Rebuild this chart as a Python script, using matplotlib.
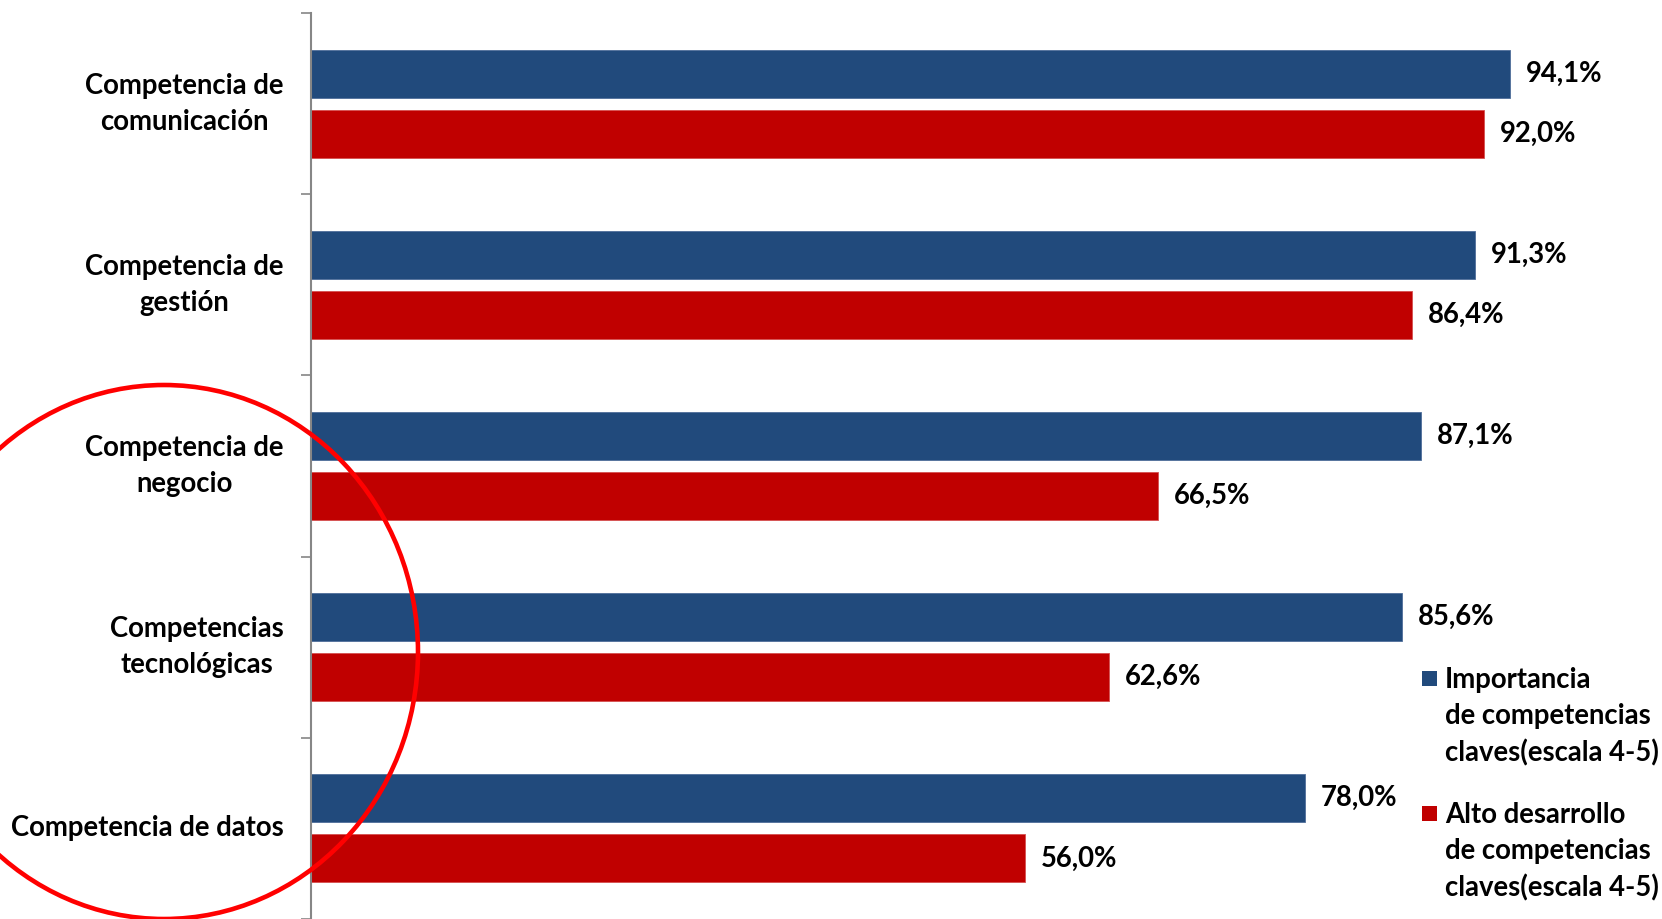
import matplotlib
matplotlib.use("Agg")
import matplotlib.pyplot as plt
from matplotlib.patches import Ellipse, Rectangle
import numpy as np

plt.rcParams['font.family'] = ['Lato', 'DejaVu Sans']

categories = ["Competencia de\ncomunicación", "Competencia de\ngestión",
              "Competencia de\nnegocio", "Competencias\ntecnológicas",
              "Competencia de datos"]
importancia = [94.1, 91.3, 87.1, 85.6, 78.0]
desarrollo = [92.0, 86.4, 66.5, 62.6, 56.0]
series_names = ["Importancia\nde competencias\nclaves(escala 4-5)",
                "Alto desarrollo\nde competencias\nclaves(escala 4-5)"]
colors = ["#214A7C", "#C00000"]

W, H = 1662, 919
fig = plt.figure(figsize=(W / 100, H / 100), dpi=100)
ax = fig.add_axes([310.6 / W, 0.0, 1 - 310.6 / W, 1 - 13 / H])

y = np.arange(len(categories))
bh = 0.265
off = 0.166
ax.barh(y - off, importancia, height=bh, color=colors[0], edgecolor="#4F6E9A", linewidth=0.6)
ax.barh(y + off, desarrollo, height=bh, color=colors[1], edgecolor="#D55050", linewidth=0.6)

fs = 19.8
fw = "bold"
ls = 1.48
for yi, v in zip(y - off, importancia):
    ax.text(v + 1.25, yi, f"{v:.1f}%".replace(".", ","), va="center", ha="left",
            fontsize=fs, fontweight=fw)
for yi, v in zip(y + off, desarrollo):
    ax.text(v + 1.25, yi, f"{v:.1f}%".replace(".", ","), va="center", ha="left",
            fontsize=fs, fontweight=fw)

ax.set_xlim(0, 106)
ax.set_ylim(len(categories) - 0.5, -0.5)
ax.set_xticks([])
ax.set_yticks(np.arange(-0.5, len(categories) + 0.5, 1.0))
ax.set_yticklabels([])
ax.set_yticks(y, minor=True)
ax.set_yticklabels(categories, minor=True, fontsize=fs, fontweight=fw, va="center")
for lab in ax.get_yticklabels(minor=True):
    lab.set_multialignment("center")
    lab.set_linespacing(ls)
ax.tick_params(axis="y", which="major", length=7, width=1.2, color="#868686", direction="out")
ax.tick_params(axis="y", which="minor", length=0, pad=19.5)
for s in ["top", "right", "bottom"]:
    ax.spines[s].set_visible(False)
ax.spines["left"].set_color("#868686")
ax.spines["left"].set_linewidth(1.5)

# legend (manual, handles aligned to first line)
leg_x = 1422 / W
leg_centers = [678 / H, 813 / H]
for name, c, yc in zip(series_names, colors, leg_centers):
    fig.patches.append(Rectangle((leg_x, 1 - yc - 7.5 / H), 15 / W, 15 / H,
                                 transform=fig.transFigure, facecolor=c, edgecolor="none"))
    fig.text(1445 / W, 1 - yc + 11 / H, name, ha="left", va="top", fontsize=fs,
             fontweight=fw, linespacing=ls)

# red circle annotation
fig.patches.append(Ellipse((164 / W, 1 - 652 / H), 508 / W, 534 / H,
                           transform=fig.transFigure, fill=False, edgecolor="#FF0000",
                           linewidth=3.3, zorder=10))

fig.savefig("out.png", dpi=100)
